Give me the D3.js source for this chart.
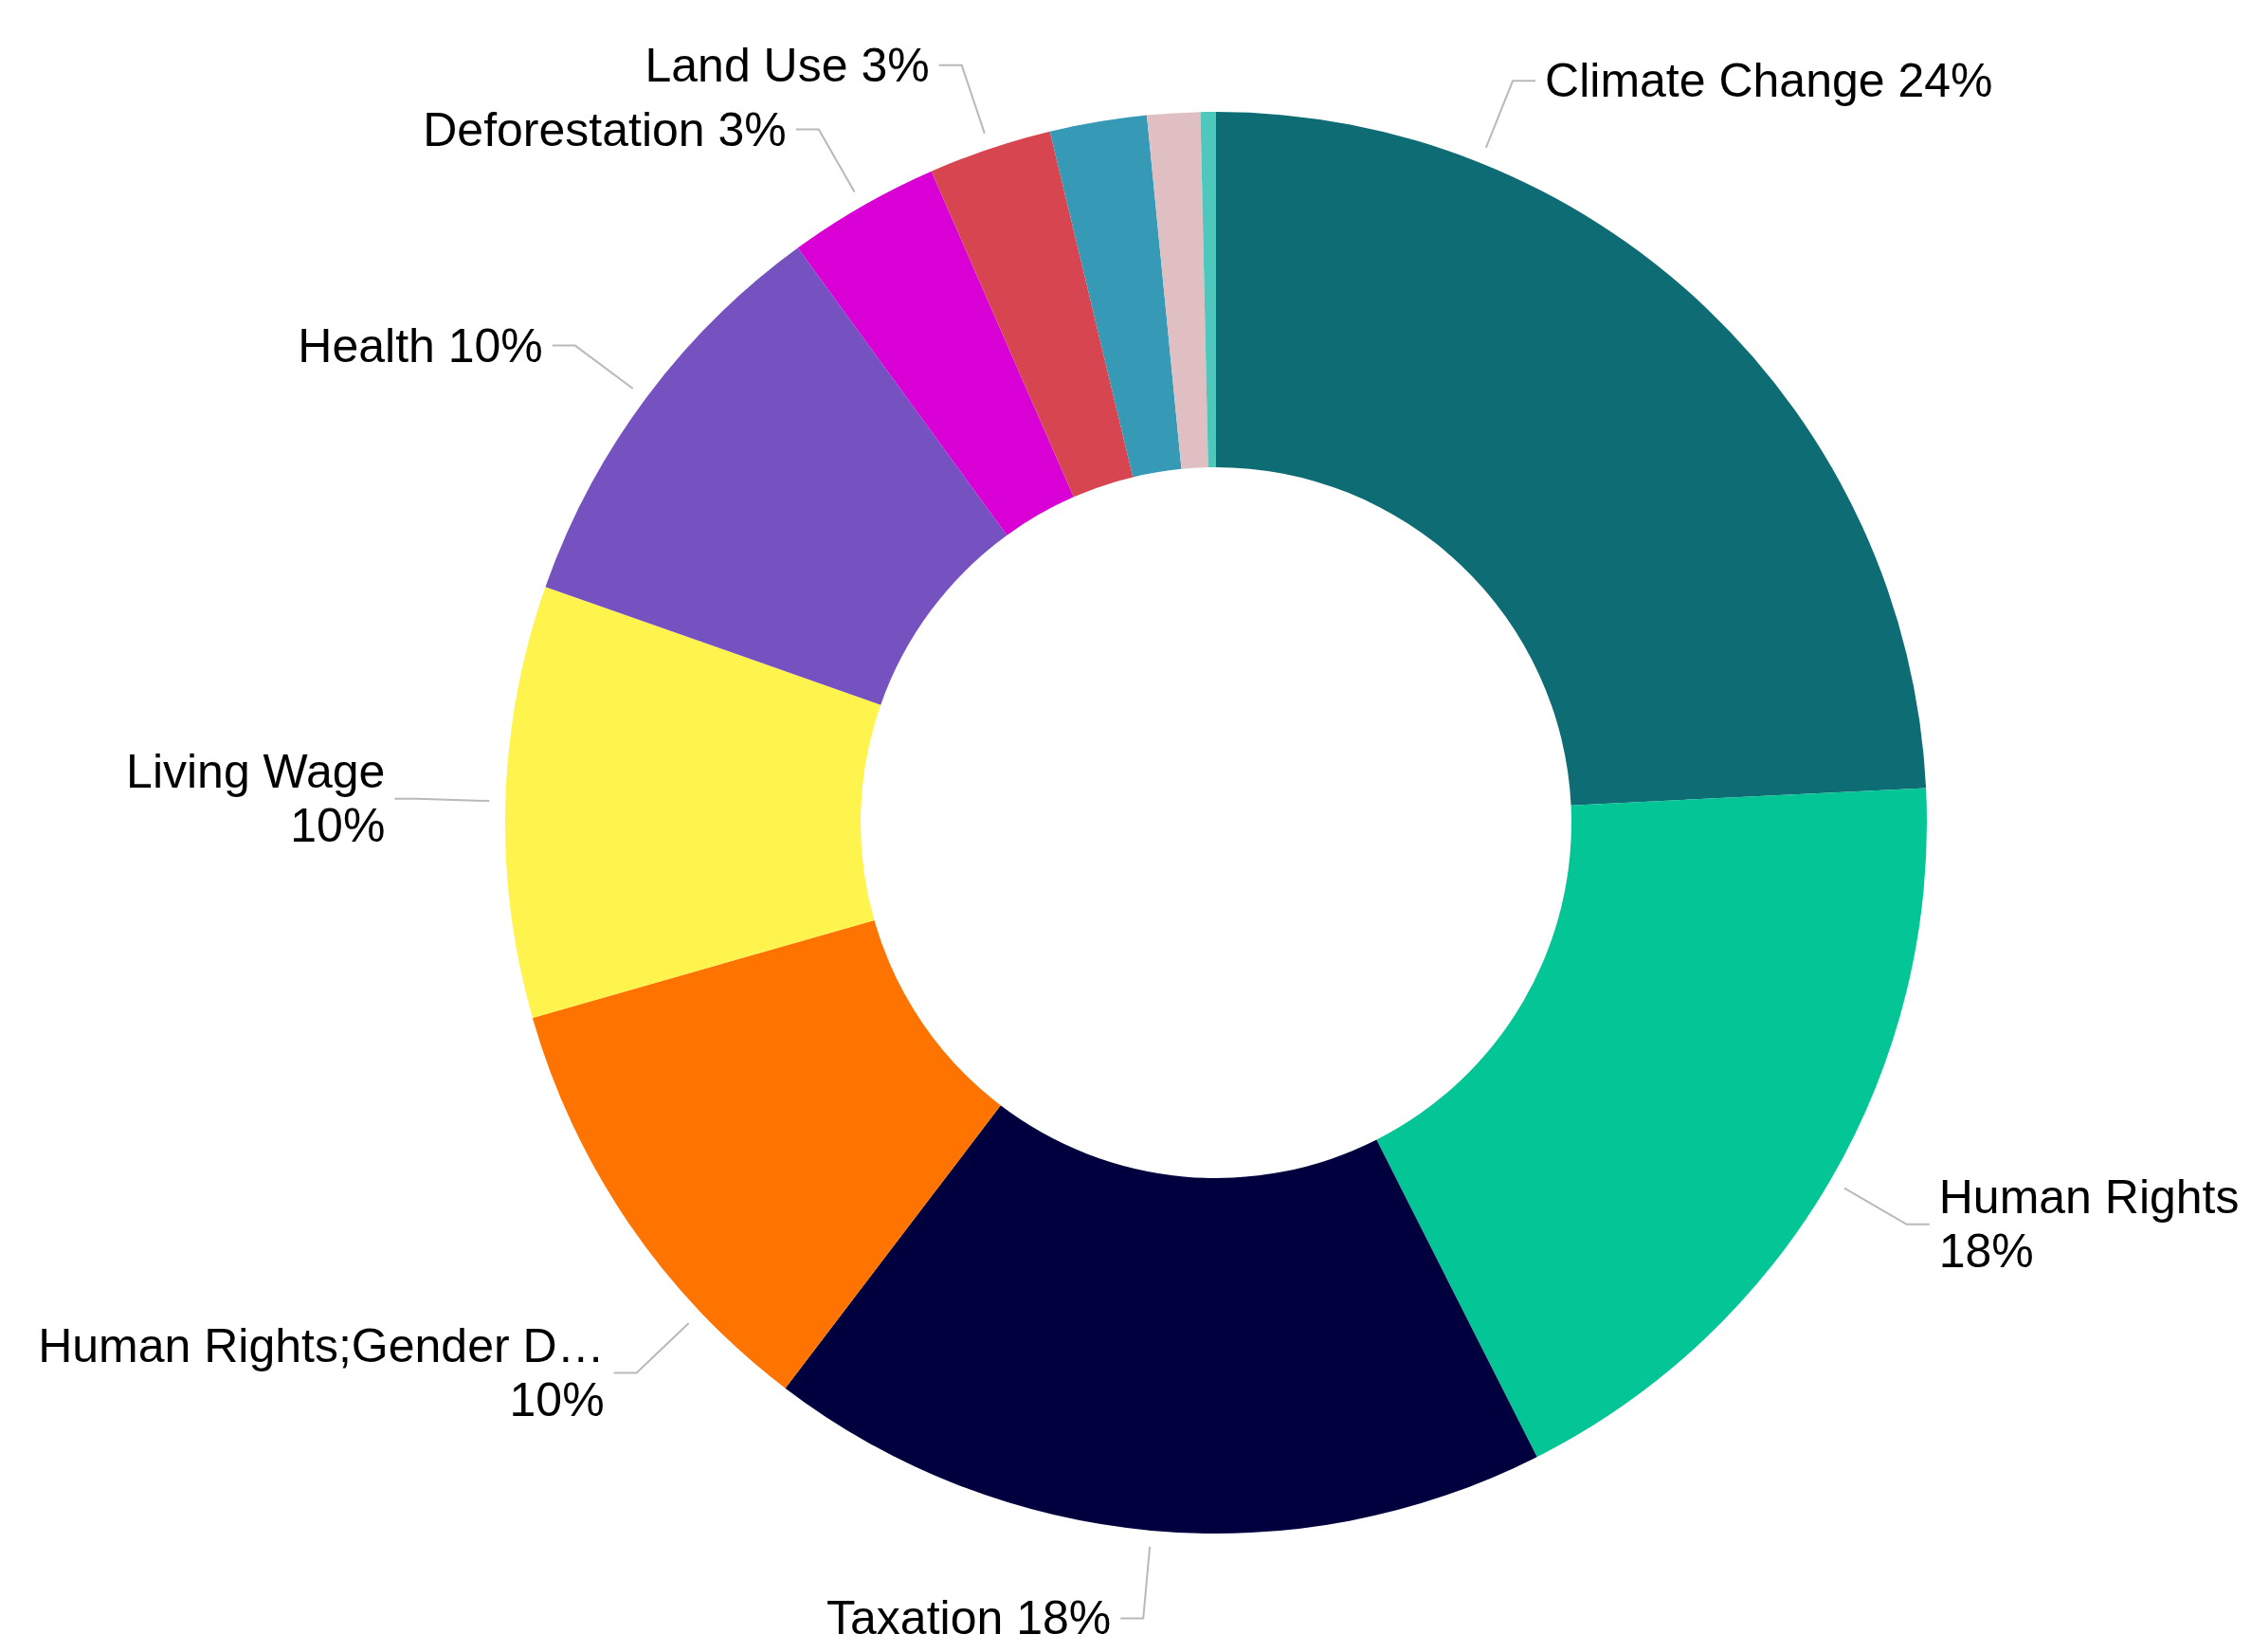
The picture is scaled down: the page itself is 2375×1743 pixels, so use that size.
<!DOCTYPE html>
<html>
<head>
<meta charset="utf-8">
<script src="https://cdn.jsdelivr.net/npm/d3@7"></script>
<style>
  html, body { margin: 0; padding: 0; background: #ffffff; }
  svg { display: block; }
</style>
</head>
<body>
<script>
// Topic shares (%), in slice order clockwise from 12 o'clock
const categories = [
  "Climate Change",
  "Human Rights",
  "Taxation",
  "Human Rights;Gender Discrimination",
  "Living Wage",
  "Health",
  "Deforestation",
  "Land Use",
  "Water",
  "Biodiversity",
  "Modern Slavery"
];
const shares = [24.2, 18.3, 17.8, 10.2, 9.8, 9.6, 3.45, 2.8, 2.2, 1.2, 0.35];
const sliceColors = [
  "#0e6c74", "#03c596", "#00003f", "#ff7400", "#fff44e", "#7652c1",
  "#d900d5", "#d64550", "#3699b6", "#dfbfc2", "#4ec8bc"
];

const W = 2375, H = 1743;
const cx = 1283, cy = 868;
const outerR = 750, innerR = 375;
const fontSize = 50, lineGap = 57;
const tickStart = outerR + 17, tickBend = outerR + 93, tickRun = 24, textGap = 10;
const edgeLeft = 33, edgeRight = 7;
const maxNameChars = 21, minLabelPct = 2.5;

const svg = d3.select("body").append("svg")
  .attr("width", W).attr("height", H);

const data = categories.map((name, i) => ({ name, value: shares[i], color: sliceColors[i] }));
const total = d3.sum(shares);

const pie = d3.pie().value(d => d.value).sort(null).startAngle(0).endAngle(2 * Math.PI);
const arc = d3.arc().innerRadius(innerR).outerRadius(outerR);
const arcs = pie(data);

const g = svg.append("g");
g.selectAll("path.slice")
  .data(arcs)
  .join("path")
  .attr("class", "slice")
  .attr("transform", `translate(${cx},${cy})`)
  .attr("d", arc)
  .attr("fill", d => d.data.color);

// Text measurement helper
const meas = svg.append("text")
  .attr("font-family", "'Liberation Sans', Arial, Helvetica, sans-serif")
  .attr("font-size", fontSize)
  .attr("visibility", "hidden");
function textWidth(s) { meas.text(s); return meas.node().getComputedTextLength(); }

const pt = (a, rad) => [cx + rad * Math.sin(a), cy - rad * Math.cos(a)];

// Leader line + text block for one slice at a given anchor angle
function layout(d, angle, lines) {
  const right = Math.sin(angle) >= 0;
  const p1 = pt(angle, tickStart);
  const p2 = pt(angle, tickBend);
  const p3 = [p2[0] + (right ? tickRun : -tickRun), p2[1]];
  const tx = p3[0] + (right ? textGap : -textGap);
  const w = d3.max(lines, s => textWidth(s));
  const x0 = right ? tx : tx - w;
  const x1 = right ? tx + w : tx;
  const fits = x0 >= edgeLeft && x1 <= W - edgeRight;
  return { pts: [p1, p2, p3], tx, ty: p2[1], right, lines, fits };
}

const labels = [];
arcs.forEach(d => {
  const pct = d.data.value / total * 100;
  if (pct < minLabelPct) return;
  let name = d.data.name;
  if (name.length > maxNameChars) name = name.slice(0, maxNameChars) + "\u2026";
  const pctText = Math.round(pct) + "%";
  const mid = (d.startAngle + d.endAngle) / 2;
  const shifted = d.startAngle + (d.endAngle - d.startAngle) / 4;
  const options = [
    [mid, [name + " " + pctText]],
    [shifted, [name + " " + pctText]],
    [mid, [name, pctText]],
    [shifted, [name, pctText]]
  ];
  let chosen = null;
  for (const [a, lines] of options) {
    const l = layout(d, a, lines);
    if (l.fits) { chosen = l; break; }
  }
  if (!chosen) chosen = layout(d, options[2][0], options[2][1]);
  labels.push(chosen);
});

const lg = svg.append("g");
lg.selectAll("polyline")
  .data(labels)
  .join("polyline")
  .attr("points", d => d.pts.map(p => p.join(",")).join(" "))
  .attr("fill", "none")
  .attr("stroke", "#b9b9b9")
  .attr("stroke-width", 2);

const texts = lg.selectAll("text.lbl")
  .data(labels)
  .join("text")
  .attr("class", "lbl")
  .attr("font-family", "'Liberation Sans', Arial, Helvetica, sans-serif")
  .attr("font-size", fontSize)
  .attr("fill", "#000")
  .attr("text-anchor", d => d.right ? "start" : "end");

texts.each(function(d) {
  const n = d.lines.length;
  d3.select(this).selectAll("tspan")
    .data(d.lines)
    .join("tspan")
    .attr("x", d.tx)
    .attr("y", (s, i) => d.ty + (i - (n - 1) / 2) * lineGap)
    .attr("dominant-baseline", "central")
    .text(s => s);
});
</script>
</body>
</html>
